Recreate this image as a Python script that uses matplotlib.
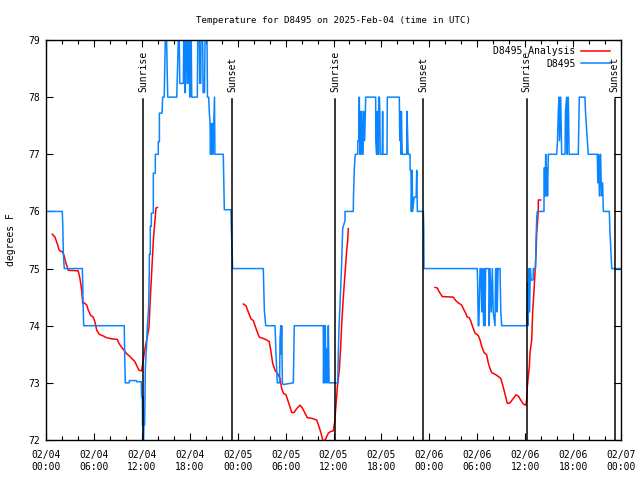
import numpy as np
import matplotlib
matplotlib.use('Agg')
import matplotlib.pyplot as plt
from matplotlib.ticker import MultipleLocator

plt.rcParams['font.family'] = ['DejaVu Sans Mono', 'DejaVu Sans']
plt.rcParams['font.size'] = 7

# hours since 02/04 00:00 UTC
sunrise = [12.18, 36.2, 60.18]
sunset = [23.28, 47.25, 71.2]

# analysis (smooth red curve), one piece per night
ana_h1 = [0.79, 1.13, 1.42, 1.63, 1.84, 2.04, 2.25, 2.47, 2.79, 4.04, 4.26, 4.47, 4.6, 4.8, 5.1,
          5.3, 5.6, 5.92, 6.14, 6.35, 6.67, 7.18, 7.6, 8.23, 8.93, 9.14, 9.48, 9.77, 10.1, 10.43,
          10.86, 11.14, 11.43, 11.65, 11.98, 12.15, 12.27, 12.43, 12.68, 12.9, 13.02, 13.15, 13.31,
          13.44, 13.65, 13.77, 13.94]
ana_t1 = [75.6, 75.55, 75.43, 75.33, 75.3, 75.3, 75.23, 75.11, 74.97, 74.96, 74.82, 74.62, 74.39, 74.4, 74.36,
          74.27, 74.18, 74.15, 74.06, 73.92, 73.85, 73.82, 73.79, 73.77, 73.76, 73.69, 73.62, 73.57, 73.51, 73.47,
          73.41, 73.37, 73.28, 73.22, 73.21, 73.37, 73.47, 73.63, 73.8, 73.98, 74.36, 74.71, 75.11,
          75.49, 75.84, 76.06, 76.07]
ana_h2 = [24.71, 25.04, 25.33, 25.67, 25.96, 26.3, 26.71, 27.14, 27.64, 27.96, 28.14, 28.39, 28.68, 28.96, 29.3,
          29.51, 29.72, 30.05, 30.34, 30.55, 30.77, 31.06, 31.39, 31.81, 32.14, 32.43, 32.72, 33.27, 33.9, 34.19,
          34.44, 34.72, 35.06, 35.35, 35.65, 35.98, 36.15, 36.23, 36.4, 36.48, 36.73, 36.9, 37.03, 37.23, 37.44,
          37.65, 37.78, 37.85]
ana_t2 = [74.38, 74.35, 74.24, 74.12, 74.09, 73.95, 73.8, 73.78, 73.75, 73.72, 73.57, 73.34, 73.22, 73.17, 73.08,
          72.9, 72.82, 72.79, 72.67, 72.58, 72.48, 72.48, 72.55, 72.61, 72.55, 72.47, 72.39, 72.38, 72.35, 72.23,
          72.12, 71.96, 72.03, 72.12, 72.15, 72.16, 72.32, 72.47, 72.76, 72.93, 73.22, 73.63, 74.04, 74.5, 74.91,
          75.32, 75.49, 75.7]
ana_h3 = [48.71, 49.0, 49.25, 49.62, 51.0, 51.3, 51.63, 52.05, 52.25, 52.55, 52.76, 53.01, 53.22, 53.43, 53.72,
          54.13, 54.35, 54.56, 54.85, 55.18, 55.38, 55.6, 55.81, 56.35, 56.94, 57.19, 57.48, 57.77, 58.1, 58.52,
          58.85, 59.14, 59.44, 59.77, 60.07, 60.19, 60.27, 60.39, 60.52, 60.61, 60.82, 60.94, 61.11, 61.27, 61.36,
          61.44, 61.64, 61.65, 61.95]
ana_t3 = [74.67, 74.66, 74.59, 74.51, 74.5, 74.44, 74.4, 74.36, 74.3, 74.22, 74.15, 74.14, 74.07, 73.98, 73.87,
          73.83, 73.75, 73.64, 73.53, 73.49, 73.35, 73.25, 73.18, 73.14, 73.08, 72.96, 72.8, 72.64, 72.65, 72.73,
          72.79, 72.77, 72.7, 72.63, 72.61, 72.7, 72.93, 73.11, 73.28, 73.54, 73.75, 74.24, 74.62, 75.03, 75.26,
          75.6, 76.0, 76.2, 76.2]

# station observations (hour, degF)
obs_day1 = [(0.0, 76.0), (2.04, 76.0), (2.1, 75.76), (2.17, 75.27), (2.29, 75.0), (4.55, 75.0), (4.6, 74.75),
            (4.65, 74.36), (4.72, 74.0), (9.8, 74.0), (9.85, 73.5), (9.93, 73.0), (10.4, 73.0), (10.45, 73.04),
            (11.3, 73.04), (11.35, 73.02), (11.93, 73.02), (11.97, 72.76), (12.06, 72.76), (12.1, 72.26),
            (12.15, 72.76), (12.2, 72.0), (12.25, 72.26), (12.35, 72.26), (12.4, 72.76), (12.44, 73.26),
            (12.6, 73.67), (12.69, 74.0), (12.85, 74.3), (12.94, 75.0), (12.94, 75.25), (13.06, 75.25),
            (13.06, 75.74), (13.19, 75.74), (13.19, 75.97), (13.44, 75.97), (13.44, 76.67), (13.69, 76.67),
            (13.69, 77.0), (14.06, 77.0), (14.06, 77.22), (14.2, 77.22), (14.2, 77.72), (14.53, 77.72),
            (14.61, 78.0), (14.8, 78.0), (14.94, 79.0), (15.1, 79.0), (15.24, 78.0), (16.37, 78.0),
            (16.57, 79.0), (16.69, 79.0), (16.75, 78.24), (17.2, 78.24), (17.24, 79.0), (17.32, 79.0),
            (17.38, 78.08), (17.45, 78.08), (17.49, 79.0), (17.62, 79.0), (17.68, 78.24), (17.78, 78.24),
            (17.82, 79.0), (17.94, 79.0), (18.0, 78.0), (18.03, 78.0), (18.07, 79.0), (18.19, 79.0),
            (18.25, 78.0), (18.95, 78.0), (19.0, 79.0), (19.2, 79.0), (19.25, 78.24), (19.38, 78.24),
            (19.41, 79.0), (19.62, 79.0), (19.67, 78.08), (19.85, 78.08), (19.91, 79.0), (20.16, 79.0),
            (20.22, 78.0), (20.37, 78.0), (20.45, 77.74), (20.54, 77.54), (20.6, 77.0), (20.65, 77.54),
            (20.75, 77.0), (20.85, 77.54), (20.9, 77.0), (21.1, 78.0), (21.15, 77.0), (22.2, 77.0),
            (22.33, 76.03), (23.17, 76.03), (23.2, 75.74), (23.37, 75.03)]
obs_day2 = [(23.37, 75.0), (27.21, 75.0), (27.34, 74.27), (27.51, 74.0), (28.68, 74.0), (28.8, 73.5),
            (28.96, 73.0), (29.25, 73.0), (29.3, 73.75), (29.4, 74.0), (29.45, 73.5), (29.51, 74.0),
            (29.6, 73.0), (29.7, 72.97), (30.97, 73.0), (31.09, 74.0), (34.72, 74.0), (34.75, 73.0),
            (34.85, 74.0), (34.9, 73.0), (34.97, 74.0), (35.05, 73.0), (35.1, 73.6), (35.27, 73.0),
            (35.35, 74.0), (35.45, 73.0), (36.4, 73.0), (36.53, 73.0), (36.6, 73.5), (36.7, 74.0),
            (36.85, 74.5), (37.0, 75.0), (37.15, 75.7), (37.44, 75.84), (37.44, 76.0), (38.48, 76.0),
            (38.5, 76.25), (38.6, 76.73), (38.73, 77.0), (39.03, 77.0), (39.05, 77.24), (39.16, 77.24),
            (39.2, 77.75), (39.23, 78.0), (39.3, 77.0), (39.4, 77.0), (39.44, 77.75), (39.55, 77.75),
            (39.6, 77.0), (39.7, 77.0), (39.78, 77.75), (39.9, 77.24), (40.03, 78.0), (41.28, 78.0),
            (41.3, 77.24), (41.4, 77.0), (41.45, 77.75), (41.55, 77.0), (41.62, 77.0), (41.66, 78.0),
            (41.75, 78.0), (41.8, 77.75), (41.85, 77.0), (42.1, 77.0), (42.15, 77.75), (42.2, 77.0),
            (42.7, 77.0), (42.74, 78.0), (44.24, 78.0), (44.3, 77.24), (44.35, 77.75), (44.45, 77.0),
            (44.5, 77.75), (44.6, 77.0), (45.17, 77.0), (45.2, 77.75), (45.3, 77.24), (45.35, 77.0),
            (45.58, 77.0), (45.6, 76.72), (45.7, 76.72), (45.75, 76.0), (45.85, 76.72), (45.9, 76.0),
            (46.1, 76.25), (46.35, 76.25), (46.42, 76.72), (46.5, 76.0), (47.25, 76.0), (47.3, 75.7),
            (47.33, 75.0)]
obs_day3 = [(47.33, 75.0), (54.0, 75.0), (54.05, 74.73), (54.13, 74.0), (54.2, 74.0), (54.35, 75.0),
            (54.45, 75.0), (54.56, 74.24), (54.65, 75.0), (54.8, 74.0), (54.88, 75.0), (54.97, 74.0),
            (55.05, 75.0), (55.45, 75.0), (55.5, 74.0), (55.6, 75.0), (55.75, 74.24), (55.89, 75.0),
            (56.0, 74.24), (56.22, 74.0), (56.3, 75.0), (56.44, 75.0), (56.5, 74.24), (56.6, 75.0),
            (56.85, 75.0), (56.95, 74.24), (57.06, 74.0), (60.19, 74.0), (60.3, 74.75), (60.35, 74.0),
            (60.45, 75.0), (60.55, 74.24), (60.65, 75.0), (60.75, 74.8), (61.0, 74.8), (61.02, 75.0),
            (61.3, 75.0), (61.36, 75.5), (61.45, 75.9), (61.52, 76.0), (62.36, 76.0), (62.36, 76.76),
            (62.45, 76.76), (62.5, 76.27), (62.57, 77.0), (62.65, 76.27), (62.74, 76.76), (62.8, 76.27),
            (62.9, 77.0), (63.95, 77.0), (64.05, 77.24), (64.15, 77.75), (64.24, 78.0), (64.3, 77.24),
            (64.4, 77.75), (64.45, 78.0), (64.57, 77.0), (64.99, 77.0), (65.05, 77.75), (65.2, 78.0),
            (65.25, 77.0), (65.35, 77.75), (65.4, 78.0), (65.5, 77.0), (66.65, 77.0), (66.78, 78.0),
            (67.49, 78.0), (67.55, 77.75), (67.9, 77.0), (69.03, 77.0), (69.1, 76.5), (69.2, 77.0),
            (69.3, 76.27), (69.45, 77.0), (69.55, 76.27), (69.7, 76.5), (69.79, 76.0), (70.54, 76.0),
            (70.6, 75.7), (70.7, 75.4), (70.84, 75.0), (72.0, 75.0)]

nan = [np.nan]
ana_h = ana_h1 + nan + ana_h2 + nan + ana_h3
ana_t = ana_t1 + nan + ana_t2 + nan + ana_t3
obs = obs_day1 + obs_day2 + obs_day3
obs_h = [p[0] for p in obs]
obs_t = [p[1] for p in obs]

fig = plt.figure(figsize=(6.4, 4.8), dpi=100)
ax = fig.add_axes([46 / 640, 40 / 480, 575 / 640, 400 / 480])

ax.plot(ana_h, ana_t, color='#ff0000', lw=1.1, label='D8495 Analysis')
ax.plot(obs_h, obs_t, color='#0a84ff', lw=1.1, label='D8495')

for h in sunrise:
    ax.plot([h, h], [72, 77.97], color='black', lw=1.1)
    ax.text(h, 78.09, 'Sunrise', rotation=90, ha='center', va='bottom')
for h in sunset:
    ax.plot([h, h], [72, 77.97], color='black', lw=1.1)
    ax.text(h, 78.09, 'Sunset', rotation=90, ha='center', va='bottom')

ax.set_xlim(0, 72)
ax.set_ylim(72, 79)
ax.xaxis.set_major_locator(MultipleLocator(6))
ax.xaxis.set_minor_locator(MultipleLocator(2))
ax.yaxis.set_major_locator(MultipleLocator(1))
xt = np.arange(0, 73, 6)
ax.set_xticks(xt)
ax.set_xticklabels(['02/%02d\n%02d:00' % (4 + h // 24, h % 24) for h in xt], linespacing=1.25)
ax.tick_params(which='both', direction='in', top=True, right=True, colors='black')
ax.tick_params(which='major', length=5, width=0.8)
ax.tick_params(which='minor', length=3, width=0.8)
ax.tick_params(axis='x', pad=7)
ax.tick_params(axis='y', pad=4)
for s in ax.spines.values():
    s.set_linewidth(1.0)

ax.set_ylabel('degrees F', labelpad=9)
ax.set_title('Temperature for D8495 on 2025-Feb-04 (time in UTC)', fontsize=6.6, pad=12.3)

ax.legend(loc='upper right', bbox_to_anchor=(0.985, 0.99), frameon=False, markerfirst=False,
          handlelength=3.0, handletextpad=0.6, labelspacing=0.3, borderaxespad=0.0, borderpad=0.2)

fig.savefig('out.png', dpi=100)
